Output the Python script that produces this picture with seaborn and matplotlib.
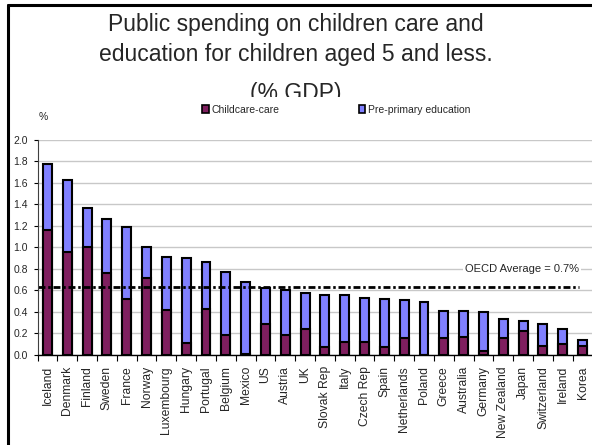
import numpy as np
import pandas as pd
import seaborn as sns
import matplotlib.pyplot as plt
from matplotlib.patches import Patch, Rectangle
from matplotlib.lines import Line2D

countries = ["Iceland", "Denmark", "Finland", "Sweden", "France", "Norway", "Luxembourg",
             "Hungary", "Portugal", "Belgium", "Mexico", "US", "Austria", "UK", "Slovak Rep",
             "Italy", "Czech Rep", "Spain", "Netherlands", "Poland", "Greece", "Australia",
             "Germany", "New Zealand", "Japan", "Switzerland", "Ireland", "Korea"]
childcare = [1.16, 0.96, 1.00, 0.76, 0.52, 0.71, 0.42, 0.11, 0.43, 0.19, 0.01, 0.29, 0.19, 0.24,
             0.07, 0.12, 0.12, 0.07, 0.155, 0.00, 0.155, 0.17, 0.04, 0.155, 0.225, 0.08, 0.10, 0.08]
pre_primary = [0.61, 0.66, 0.36, 0.50, 0.665, 0.29, 0.49, 0.79, 0.43, 0.58, 0.67, 0.33, 0.41, 0.34,
               0.49, 0.44, 0.41, 0.45, 0.355, 0.495, 0.255, 0.24, 0.36, 0.175, 0.095, 0.21, 0.14, 0.06]
oecd_avg = 0.63
y_ticks = [0.0, 0.2, 0.4, 0.6, 0.8, 1.0, 1.2, 1.4, 1.6, 1.8, 2.0]

CARE_COLOR = "#7f1f5f"
PRE_COLOR = "#8080ff"

sns.set_style("white")
plt.rcParams["font.family"] = ["Liberation Sans", "DejaVu Sans"]

df = pd.DataFrame({"country": countries, "care": childcare, "pre": pre_primary})
df["total"] = df["care"] + df["pre"]

W, H = 592, 445
fig = plt.figure(figsize=(W / 100, H / 100), dpi=100)
fig.patch.set_facecolor("white")

# slide title (third line gets partly hidden by the chart picture)
fig.text(0.5, 1 - 31 / H, "Public spending on children care and", ha="center", va="baseline", fontsize=16.5)
fig.text(0.5, 1 - 61 / H, "education for children aged 5 and less.", ha="center", va="baseline", fontsize=16.5)
fig.text(0.5, 1 - 100 / H, "(% GDP)", ha="center", va="baseline", fontsize=16.5)

# the chart picture sits on top of the title
fig.add_artist(Rectangle((10 / W, 0), 1, (H - 97) / H, transform=fig.transFigure,
                         facecolor="white", edgecolor="none", zorder=4))

# slide frame
fig.add_artist(Line2D([8 / W, 1], [1 - 5 / H, 1 - 5 / H], transform=fig.transFigure,
                      color="black", lw=2.2, zorder=6))
fig.add_artist(Line2D([8 / W, 8 / W], [0, 1 - 5 / H], transform=fig.transFigure,
                      color="black", lw=2.2, zorder=6))

ax = fig.add_axes([37.5 / W, (H - 355) / H, 555 / W, 215.5 / H])
ax.set_zorder(5)

sns.barplot(data=df, x="country", y="total", order=countries, color=PRE_COLOR, saturation=1,
            width=0.45, edgecolor="black", linewidth=1.5, ax=ax)
sns.barplot(data=df, x="country", y="care", order=countries, color=CARE_COLOR, saturation=1,
            width=0.45, edgecolor="black", linewidth=1.5, ax=ax)

ax.axhline(oecd_avg, xmin=0, xmax=0.975, color="black", lw=2, dashes=(2.5, 1.0, 0.9, 1.0))
ax.text(23.95, 0.8, "OECD Average = 0.7%", ha="center", va="center", fontsize=8,
        bbox=dict(facecolor="white", edgecolor="none", pad=1.5))

ax.set_xlim(-0.5, len(countries) - 0.5)
ax.set_ylim(0, 2.0)
ax.set_yticks(y_ticks)
ax.set_yticklabels([f"{t:.1f}" for t in y_ticks])
ax.set_xlabel("")
ax.set_ylabel("")
ax.set_axisbelow(True)
ax.yaxis.grid(True, color="#c8c8c8", lw=1)

ax.set_xticks(np.arange(len(countries)))
ax.set_xticklabels(countries, rotation=90, fontsize=8.7)
ax.set_xticks(np.arange(len(countries) + 1) - 0.5, minor=True)
ax.tick_params(axis="x", which="major", length=0, pad=8)
ax.tick_params(axis="x", which="minor", length=4, width=0.8, color="black", bottom=True)
ax.tick_params(axis="y", length=3, width=0.8, color="black", left=True, labelsize=7.5, pad=4)

for side in ["top", "right"]:
    ax.spines[side].set_visible(False)
ax.spines["left"].set_color("#404040")
ax.spines["left"].set_linewidth(0.8)
ax.spines["bottom"].set_color("black")
ax.spines["bottom"].set_linewidth(1)

fig.text(43 / W, 1 - 117 / H, "%", ha="center", va="center", fontsize=7.5, zorder=6)

handles = [Patch(facecolor=CARE_COLOR, edgecolor="black", lw=1.2),
           Patch(facecolor=PRE_COLOR, edgecolor="black", lw=1.2)]
ax.legend(handles, ["Childcare-care", "Pre-primary education"], ncol=2, frameon=False,
          loc="center left", bbox_to_anchor=(202 / W, 1 - 110 / H), bbox_transform=fig.transFigure,
          fontsize=7.5, handlelength=0.65, handleheight=0.8, handletextpad=0.25,
          columnspacing=7.6, borderpad=0, borderaxespad=0)

fig.savefig("out.png", dpi=100)
